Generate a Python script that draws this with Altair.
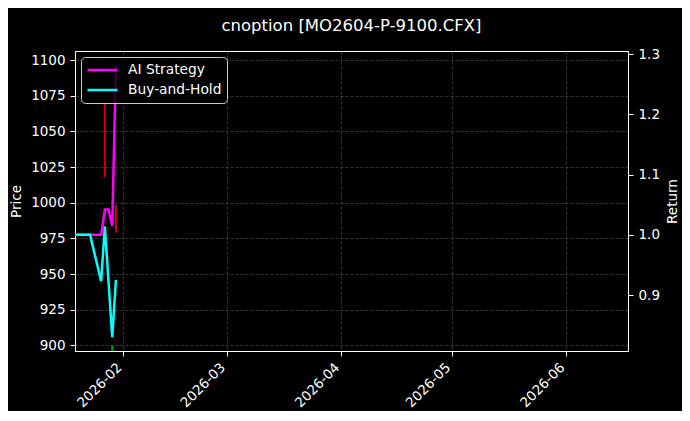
import altair as alt
import pandas as pd

# trading days and cumulative return of both strategies (right axis)
dates = ["2026-01-19", "2026-01-20", "2026-01-21", "2026-01-22", "2026-01-23",
         "2026-01-26", "2026-01-27", "2026-01-28", "2026-01-29", "2026-01-30"]
ai_strategy = [1.0, 1.0, 1.0, 1.0, 1.0, 1.0, 1.042, 1.042, 1.015, 1.28]
buy_and_hold = [1.0, 1.0, 1.0, 1.0, 1.0, 0.923, 1.014, 0.922, 0.83, 0.925]
series_names = ["AI Strategy", "Buy-and-Hold"]
series_colors = ["#ff00ff", "#00ffff"]

# candles on the price axis (left)
candle_dates = ["2026-01-27", "2026-01-29", "2026-01-30"]
candle_low = [1018, 885, 979]
candle_high = [1070, 900, 998.5]
candle_colors = ["#d40000", "#00a000", "#d40000"]

price_ticks = [900, 925, 950, 975, 1000, 1025, 1050, 1075, 1100]
return_ticks = [0.9, 1.0, 1.1, 1.2, 1.3]
month_ticks = [2, 3, 4, 5, 6]

FONT = "DejaVu Sans"

lines_df = pd.DataFrame({
    "date": [d + "T00:00:00" for d in dates] * 2,
    "series": [series_names[0]] * len(dates) + [series_names[1]] * len(dates),
    "value": ai_strategy + buy_and_hold,
})
candle_df = pd.DataFrame({
    "date": [d + "T00:00:00" for d in candle_dates],
    "low": candle_low,
    "high": candle_high,
    "color": candle_colors,
})

x_enc = alt.X(
    "date:T",
    title=None,
    scale=alt.Scale(domain=[
        alt.DateTime(year=2026, month=1, date=18, hours=22),
        alt.DateTime(year=2026, month=6, date=17, hours=17),
    ]),
    axis=alt.Axis(
        values=[alt.DateTime(year=2026, month=m, date=1) for m in month_ticks],
        format="%Y-%m", labelAngle=-45, labelAlign="right", labelBaseline="middle",
        labelOffset=-4, labelPadding=9,
    ),
)

candles = alt.Chart(candle_df).mark_rule(strokeWidth=2, clip=True).encode(
    x=x_enc,
    y=alt.Y("low:Q", title="Price",
            scale=alt.Scale(domain=[896, 1106.4], nice=False, zero=False),
            axis=alt.Axis(orient="left", values=price_ticks, format="d", titlePadding=7)),
    y2="high:Q",
    color=alt.Color("color:N", scale=None, legend=None),
)

lines = alt.Chart(lines_df).mark_line(strokeWidth=2.5, clip=True).encode(
    x=x_enc,
    y=alt.Y("value:Q", title="Return",
            scale=alt.Scale(domain=[0.807, 1.3055], nice=False, zero=False),
            axis=alt.Axis(orient="right", values=return_ticks, format=".1f",
                          titlePadding=6, titleAngle=270, titleBaseline="top")),
    color=alt.Color(
        "series:N",
        scale=alt.Scale(domain=series_names, range=series_colors),
        legend=alt.Legend(
            title=None, orient="top-left", offset=6,
            fillColor="rgba(0,0,0,0.8)", strokeColor="#cccccc", cornerRadius=4,
            padding=5, symbolType="stroke", symbolSize=900, symbolStrokeWidth=2.5,
            labelFontSize=13.8, labelColor="white", labelFont=FONT, labelOffset=9,
            rowPadding=4, clipHeight=16,
        ),
    ),
)

chart = (
    alt.layer(candles, lines)
    .resolve_scale(y="independent", color="independent")
    .properties(
        width=553,
        height=300,
        autosize=alt.AutoSizeParams(type="none"),
        padding={"left": 67, "top": 43, "right": 54, "bottom": 60},
        background="#000000",
        title=alt.TitleParams(
            "cnoption [MO2604-P-9100.CFX]", fontSize=16.5, font=FONT,
            fontWeight="normal", color="white", anchor="middle", offset=13,
        ),
    )
    .configure_view(stroke="white", strokeWidth=1, fill="#000000")
    .configure_axis(
        labelColor="white", titleColor="white", tickColor="white", domainColor="white",
        labelFont=FONT, titleFont=FONT, labelFontSize=13.5, titleFontSize=13.5,
        titleFontWeight="normal", tickSize=5, labelPadding=5,
        grid=True, gridColor="#444444", gridDash=[3, 2], gridWidth=0.8,
    )
)

chart.save("out.html", embed_options={"renderer": "svg", "actions": False})
